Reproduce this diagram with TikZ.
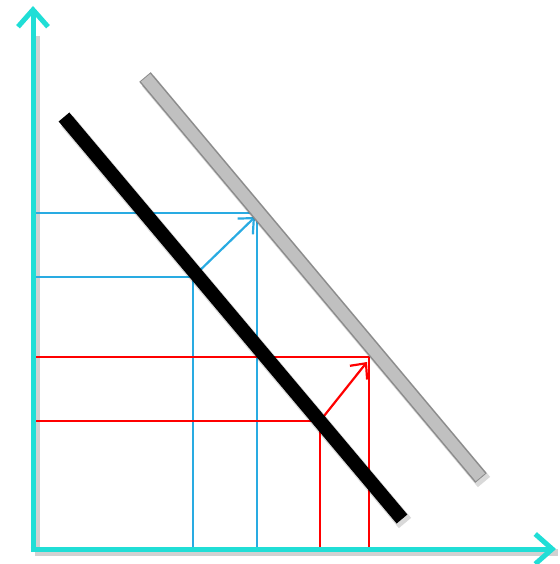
\documentclass[tikz,border=0pt]{standalone}
\usepackage{tikz}
\usetikzlibrary{arrows.meta}
\definecolor{axiscyan}{RGB}{32,222,214}
\definecolor{skyblue}{RGB}{41,171,226}
\definecolor{barline}{RGB}{140,140,140}
\definecolor{barfill}{RGB}{192,192,192}
\begin{document}
\begin{tikzpicture}[x=1pt,y=-1pt,
  axis/.style={axiscyan,line width=5pt,-{Straight Barb[length=17pt,width=30pt,line width=5pt]}},
  shade line/.style={black,opacity=0.18,line width=7pt},
  budget/.style={line width=2pt},
  shift arrow/.style={line width=2.2pt,-{Straight Barb[length=12pt,width=22pt,line width=2.2pt]}},
  bar shadow/.style={black,opacity=0.15,line width=16pt}]
\useasboundingbox (0,0) rectangle (559,564);
\coordinate (O) at (33,549);
\coordinate (ytip) at (33,6);
\coordinate (xtip) at (556,549);
\coordinate (b1) at (193,277);
\coordinate (b2) at (257,213);
\coordinate (r1) at (320,421);
\coordinate (r2) at (369,357);
\coordinate (blackA) at (64,117);
\coordinate (blackB) at (402,519);
\coordinate (grayA) at (145,77);
\coordinate (grayB) at (481,478);
\draw [shade line] ([shift={(2,3)}]O) -- ([shift={(2,3)}]xtip);
\draw [shade line] ([shift={(3,2)}]O) -- ([shift={(3,30)}]ytip);
\draw [skyblue,budget] (O |- b2) -- (b2) -- (b2 |- O);
\draw [skyblue,budget] (O |- b1) -- (b1) -- (b1 |- O);
\draw [red,budget] (O |- r2) -- (r2) -- (r2 |- O);
\draw [red,budget] (O |- r1) -- (r1) -- (r1 |- O);
\draw [skyblue,shift arrow] (b1) -- ([shift={(-2,4)}]b2);
\draw [red,shift arrow] (r1) -- ([shift={(-2,5)}]r2);
\draw [bar shadow] ([shift={(3,4)}]grayA) -- ([shift={(3,4)}]grayB);
\draw [barline,line width=15pt] (grayA) -- (grayB);
\draw [barfill,line width=12pt,shorten <=1pt,shorten >=1pt] (grayA) -- (grayB);
\draw [bar shadow] ([shift={(3,4)}]blackA) -- ([shift={(3,4)}]blackB);
\draw [black,line width=14pt] (blackA) -- (blackB);
\draw [axis] ([xshift=-2.5pt]O) -- (xtip);
\draw [axis] ([yshift=2.5pt]O) -- (ytip);
\end{tikzpicture}
\end{document}
